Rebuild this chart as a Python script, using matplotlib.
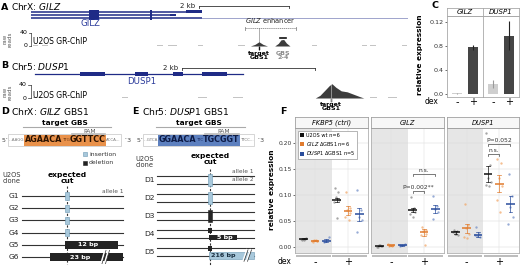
import numpy as np
import matplotlib
matplotlib.use("Agg")
import matplotlib.pyplot as plt
from matplotlib.patches import Rectangle, Patch
import matplotlib.transforms as mtransforms

plt.rcParams['font.family'] = ['DejaVu Sans']
plt.rcParams['mathtext.fontset'] = 'dejavusans'

# ---------------- data ----------------
# Panel A: GILZ locus (kb)
gilz_tx_start = [0.24, 0.24, 0.24]
gilz_tx_end = [4.04, 3.44, 8.60]
gilz_exon_start = [1.53, 2.89, 3.33, 3.69]
gilz_exon_end = [1.76, 2.93, 3.47, 4.04]
gilz_exon_lane = [-1, -1, 1, 0]
gilz_chip_kb = [5.12, 5.22, 5.31, 5.40, 5.50, 5.66, 5.74, 5.80, 5.86, 5.92, 6.00]
gilz_chip_reads = [0, 5, 13, 5, 0, 0, 8, 19, 20, 9, 0]
gilz_bg_start = [0.29, 0.49, 3.04, 3.29, 3.96, 4.84, 6.49, 7.60, 7.78, 8.49]
gilz_bg_end = [0.40, 0.62, 3.18, 3.49, 4.07, 5.00, 6.60, 7.71, 7.91, 8.60]
gilz_target_kb = 5.31
gilz_gbs24_kb = 5.84
gilz_enh = [5.00, 6.13]
gilz_scale_kb = [3.98, 5.98]

# Panel B: DUSP1 locus (kb)
dusp1_tx = [0.23, 3.35]
dusp1_exon_start = [0.90, 1.73, 2.30, 2.74]
dusp1_exon_end = [1.28, 1.92, 2.45, 3.11]
dusp1_chip_kb = [4.44, 4.51, 4.59, 4.65, 4.69, 4.75, 4.83, 4.92, 5.01, 5.10, 5.17]
dusp1_chip_reads = [0, 8, 25, 38, 44, 33, 22, 19, 12, 5, 0]
dusp1_bg_start = [0.20, 0.75, 1.53, 2.68, 3.20, 5.26, 5.53]
dusp1_bg_end = [0.38, 0.93, 1.62, 2.81, 3.35, 5.37, 5.67]
dusp1_target_kb = 4.68
dusp1_scale_kb = [2.44, 4.44]

# Panel C
c_genes = ['GILZ', 'DUSP1']
c_minus = [0.012, 0.17]
c_minus_err = [0.004, 0.065]
c_plus = [0.78, 0.97]
c_plus_err = [0.04, 0.24]
c_ticks = [0.0, 0.4, 0.8, 1.2]
c_ticklabels = ['0.0', '0.4', '0.8', '0.12']

# Panel D
d_clones = ['G1', 'G2', 'G3', 'G4', 'G5', 'G6']
d_edit = ['ins', 'ins', 'ins', 'ins', 'del', 'del']
d_label = ['', '', '', '', '12 bp', '23 bp']
d_del_left = [0, 0, 0, 0, -2, -17]
d_del_right = [0, 0, 0, 0, 51, 56]
d_break = [False, False, False, False, False, True]

# Panel E
e_clones = ['D1', 'D2', 'D3', 'D4', 'D5']
e_allele1 = ['ins', 'ins', 'del', 'del', 'del']
e_allele2 = ['ins', 'ins', 'del', 'del', 'ins']
e_allele2_label = ['', '', '', '5 bp', '216 bp']
e_allele2_right = [0, 0, 0, 27, 44]

# Panel F
f_genes = ['FKBP5 (ctrl)', 'GILZ', 'DUSP1']
f_groups = ['U2OS wt n=6', '$\\mathit{GILZ}$ ΔGBS1 n=6', '$\\mathit{DUSP1}$ ΔGBS1 n=5']
f_points = {
    ('FKBP5 (ctrl)', '-'): [[0.014, 0.015, 0.016, 0.017, 0.015, 0.013],
                            [0.010, 0.012, 0.013, 0.011, 0.012, 0.014],
                            [0.011, 0.013, 0.012, 0.020, 0.010]],
    ('FKBP5 (ctrl)', '+'): [[0.113, 0.106, 0.097, 0.090, 0.087, 0.055],
                            [0.106, 0.076, 0.071, 0.065, 0.058, 0.052],
                            [0.109, 0.071, 0.058, 0.052, 0.028]],
    ('GILZ', '-'): [[0.001, 0.002, 0.003, 0.002, 0.001, 0.003],
                    [0.002, 0.003, 0.004, 0.003, 0.005, 0.002],
                    [0.002, 0.003, 0.004, 0.005, 0.003]],
    ('GILZ', '+'): [[0.097, 0.076, 0.072, 0.068, 0.063, 0.058],
                    [0.039, 0.033, 0.030, 0.026, 0.023, 0.004],
                    [0.098, 0.079, 0.074, 0.068, 0.053]],
    ('DUSP1', '-'): [[0.033, 0.030, 0.026, 0.023, 0.028, 0.025],
                     [0.083, 0.043, 0.036, 0.026, 0.019, 0.017],
                     [0.038, 0.026, 0.021, 0.020, 0.023]],
    ('DUSP1', '+'): [[0.219, 0.158, 0.133, 0.126, 0.120, 0.117],
                     [0.169, 0.162, 0.133, 0.117, 0.091, 0.068],
                     [0.140, 0.099, 0.077, 0.058, 0.045]],
}
f_means = {
    ('FKBP5 (ctrl)', '-'): [0.0155, 0.012, 0.0125], ('FKBP5 (ctrl)', '+'): [0.090, 0.070, 0.063],
    ('GILZ', '-'): [0.002, 0.003, 0.003], ('GILZ', '+'): [0.072, 0.028, 0.073],
    ('DUSP1', '-'): [0.028, 0.036, 0.024], ('DUSP1', '+'): [0.140, 0.122, 0.083],
}
f_errs = {
    ('FKBP5 (ctrl)', '-'): [0.001, 0.001, 0.002], ('FKBP5 (ctrl)', '+'): [0.004, 0.008, 0.013],
    ('GILZ', '-'): [0.0008, 0.001, 0.001], ('GILZ', '+'): [0.004, 0.006, 0.008],
    ('DUSP1', '-'): [0.002, 0.009, 0.004], ('DUSP1', '+'): [0.015, 0.017, 0.016],
}
f_yticks = [0.00, 0.05, 0.10, 0.15, 0.20]
# significance: gene, group a, group b, height, label
f_sig = [('GILZ', 0, 2, 0.140, 'n.s.'), ('GILZ', 0, 1, 0.108, 'P=0.002**'),
         ('DUSP1', 0, 2, 0.198, 'P=0.052'), ('DUSP1', 0, 1, 0.179, 'n.s.')]

# ---------------- style ----------------
NAVY = '#1f2b86'
LIGHTLINE = '#9ea4cc'
GRP_COL = ['#111111', '#e07b2e', '#2a4d9c']
GRP_PT = ['#888888', '#f2a96c', '#7590c9']
INS_C = '#a8c8db'
INS_E = '#6b98b3'

W, H = 520, 266
fig = plt.figure(figsize=(5.2, 2.66), dpi=100)


def add_ax(x0, y0, x1, y1, zorder=1):
    return fig.add_axes([x0 / W, 1 - y1 / H, (x1 - x0) / W, (y1 - y0) / H], zorder=zorder)


ov = add_ax(0, 0, W, H, zorder=10)
ov.set_xlim(0, W); ov.set_ylim(H, 0); ov.axis('off')


def T(x, y, s, size=5, **kw):
    kw.setdefault('va', 'center')
    return ov.text(x, y, s, fontsize=size, **kw)


# ================= Panel A =================
T(1, 7, 'A', 6.8, weight='bold')
T(11, 7, 'ChrX: $\\mathit{GILZ}$', 6.5)
gA = add_ax(20, 9, 410, 21)
gA.set_xlim(0, 390 / 45); gA.set_ylim(2.9, -0.9); gA.axis('off')
for lane, (s, e) in enumerate(zip(gilz_tx_start, gilz_tx_end)):
    e1 = min(e, gilz_exon_end[-1])
    gA.plot([s, e1], [lane, lane], color=NAVY, lw=1.1, solid_capstyle='butt')
    if e > e1:
        gA.plot([e1, e], [lane, lane], color=LIGHTLINE, lw=0.7)
for s, e, ln in zip(gilz_exon_start, gilz_exon_end, gilz_exon_lane):
    if ln < 0:
        gA.add_patch(Rectangle((s, -0.55), e - s, 3.1, color=NAVY, lw=0))
    else:
        gA.add_patch(Rectangle((s, ln - 0.45), e - s, 0.9, color=NAVY, lw=0))
gA.plot(gilz_scale_kb, [-2.0, -2.0], color='#333333', lw=0.6, clip_on=False)
gA.plot([gilz_scale_kb[1]] * 2, [-2.0, -1.3], color='#333333', lw=0.6, clip_on=False)
gA.plot([gilz_scale_kb[0]] * 2, [-2.0, -1.3], color='#333333', lw=0.6, clip_on=False)
gA.text(gilz_scale_kb[0] - 0.08, -2.0, '2 kb', fontsize=5, ha='right', va='center', color='#222222')
T(90, 24, 'GILZ', 6.2, ha='center', color='#2a3a9a')

cA = add_ax(20, 33, 410, 46)
cA.set_xlim(0, 390 / 45); cA.set_ylim(0, 40); cA.axis('off')
for s, e in zip(gilz_bg_start, gilz_bg_end):
    cA.fill_between([s, e], [0, 0], [2, 2], color='#c4c4c4', lw=0)
cA.fill_between(gilz_chip_kb, 0, gilz_chip_reads, color='#3c3c3c', lw=0)
cA.plot([gilz_target_kb] * 2, [-12, 56], color='#a0a0a0', lw=0.6, clip_on=False, zorder=0)
cA.plot([gilz_target_kb] * 2, [-3, -8], color='#111111', lw=1.0, clip_on=False)
cA.plot([gilz_gbs24_kb - 0.06, gilz_gbs24_kb + 0.06], [25, 25], color='#111111', lw=1.2, clip_on=False)
cA.plot(gilz_enh, [54, 54], color='#888888', lw=0.6, ls=(0, (1.5, 0.8)), clip_on=False)
for xe in gilz_enh:
    cA.plot([xe, xe], [50, 58], color='#888888', lw=0.6, clip_on=False)
cA.text(np.mean(gilz_enh), 64, '$\\mathit{GILZ}$ enhancer', fontsize=4.8, ha='center', va='bottom', color='#222222')
cA.text(gilz_target_kb, -14, 'target\nGBS1', fontsize=4.5, weight='bold', ha='center', va='top', linespacing=0.9)
cA.text(gilz_gbs24_kb, -14, 'GBS\n2-4', fontsize=4.5, weight='bold', ha='center', va='top', color='#8a8a8a', linespacing=0.9)
cA.plot([0.244, 0.244], [0, 40], color='#333333', lw=0.5, clip_on=False)
for v in (0, 40):
    cA.plot([0.19, 0.244], [v, v], color='#333333', lw=0.5, clip_on=False)
    cA.text(0.17, v, str(v), fontsize=4.5, ha='right', va='center')
T(7.5, 39, 'raw\nreads', 4, rotation=90, ha='center', color='#555555', linespacing=0.9)
T(33, 42, 'U2OS GR-ChIP', 5.5)

# ================= Panel B =================
T(1, 66, 'B', 6.8, weight='bold')
T(11, 66, 'Chr5: $\\mathit{DUSP1}$', 6.5)
gB = add_ax(20, 70, 410, 78)
gB.set_xlim(0, 390 / 66.5); gB.set_ylim(1, -1); gB.axis('off')
gB.plot(dusp1_tx, [0, 0], color=NAVY, lw=0.9)
for s, e in zip(dusp1_exon_start, dusp1_exon_end):
    gB.add_patch(Rectangle((s, -0.45), e - s, 0.9, color=NAVY, lw=0))
gB.plot(dusp1_scale_kb, [-1.5, -1.5], color='#333333', lw=0.6, clip_on=False)
gB.plot([dusp1_scale_kb[1]] * 2, [-1.5, -0.9], color='#333333', lw=0.6, clip_on=False)
gB.plot([dusp1_scale_kb[0]] * 2, [-1.5, -0.9], color='#333333', lw=0.6, clip_on=False)
gB.text(dusp1_scale_kb[0] - 0.06, -1.5, '2 kb', fontsize=5, ha='right', va='center', color='#222222')
T(142, 82, 'DUSP1', 6.2, ha='center', color='#2a3a9a')

cB = add_ax(20, 85, 410, 98)
cB.set_xlim(0, 390 / 66.5); cB.set_ylim(0, 40); cB.axis('off')
for s, e in zip(dusp1_bg_start, dusp1_bg_end):
    cB.fill_between([s, e], [0, 0], [2, 2], color='#c4c4c4', lw=0)
cB.fill_between(dusp1_chip_kb, 0, dusp1_chip_reads, color='#3c3c3c', lw=0, clip_on=False)
cB.plot([dusp1_target_kb] * 2, [-10, 41], color='#a0a0a0', lw=0.6, clip_on=False, zorder=3)
cB.plot([dusp1_target_kb] * 2, [-3, -8], color='#111111', lw=1.0, clip_on=False)
cB.text(dusp1_target_kb, -12, 'target\nGBS1', fontsize=4.5, weight='bold', ha='center', va='top', linespacing=0.9)
cB.plot([0.17, 0.17], [0, 40], color='#333333', lw=0.5, clip_on=False)
for v in (0, 40):
    cB.plot([0.12, 0.17], [v, v], color='#333333', lw=0.5, clip_on=False)
    cB.text(0.10, v, str(v), fontsize=4.5, ha='right', va='center')
T(7.5, 92, 'raw\nreads', 4, rotation=90, ha='center', color='#555555', linespacing=0.9)
T(33, 95, 'U2OS GR-ChIP', 5.5)

# ================= Panel C =================
T(432, 5, 'C', 6.8, weight='bold')
cax = [add_ax(447, 16, 483, 97), add_ax(483, 16, 519, 97)]
for i, ax in enumerate(cax):
    ax.set_xlim(0.4, 2.6); ax.set_ylim(-0.05, 1.3)
    ax.bar([1, 2], [c_minus[i], c_plus[i]], width=0.62, color=['#cfcfcf', '#454545'], zorder=2)
    ax.errorbar([1], [c_minus[i]], yerr=[c_minus_err[i]], fmt='none', ecolor='#9a9a9a', elinewidth=0.8, capsize=0, zorder=3)
    ax.errorbar([2], [c_plus[i]], yerr=[c_plus_err[i]], fmt='none', ecolor='#222222', elinewidth=0.8, capsize=0, zorder=3)
    ax.set_xticks([])
    for sp in ax.spines.values():
        sp.set_color('#a8a8a8'); sp.set_linewidth(0.6)
    if i == 0:
        ax.set_yticks(c_ticks)
        ax.set_yticklabels(c_ticklabels, fontsize=4.6)
        ax.tick_params(axis='y', length=1.5, width=0.5, pad=1, colors='#333333')
    else:
        ax.set_yticks([])
    tr = mtransforms.blended_transform_factory(ax.transData, ax.transAxes)
    ax.text(1, -0.06, '-', transform=tr, fontsize=7, ha='center', va='center')
    ax.text(2, -0.06, '+', transform=tr, fontsize=7, ha='center', va='center')
    st = add_ax(447 + 36 * i, 8, 483 + 36 * i, 16)
    st.set_xticks([]); st.set_yticks([])
    for sp in st.spines.values():
        sp.set_color('#a8a8a8'); sp.set_linewidth(0.6)
    st.text(0.5, 0.45, c_genes[i], fontsize=5, style='italic', ha='center', va='center', transform=st.transAxes)
T(432, 102, 'dex', 5.5, ha='center')
T(420, 55, 'relative expression', 5.3, weight='bold', rotation=90, ha='center')

# ================= Panel F =================
T(280, 112, 'F', 6.8, weight='bold')
fx = [(295, 368), (371, 444), (447, 519)]
offs = [-0.34, 0.0, 0.34]
jit = [-0.06, 0.05, -0.02, 0.07, -0.08, 0.02]
fax = []
for gi, gene in enumerate(f_genes):
    x0, x1 = fx[gi]
    ax = add_ax(x0, 128, x1, 253)
    fax.append(ax)
    ax.set_xlim(0.4, 2.6); ax.set_ylim(-0.0115, 0.229)
    ax.axvspan(0.4, 1.5, color='#e6e6e6', lw=0, zorder=0)
    for v in f_yticks:
        ax.axhline(v, color='#d6d6d6', lw=0.35, zorder=0.5)
    for v in [1, 2]:
        ax.axvline(v, color='#dedede', lw=0.35, zorder=0.5)
    for di, dex in enumerate(['-', '+']):
        xc = di + 1
        for k in range(3):
            pts = f_points[(gene, dex)][k]
            xs = [xc + offs[k] + jit[j % len(jit)] for j in range(len(pts))]
            ax.plot(xs, pts, 'o', ms=1.7, color=GRP_PT[k], alpha=0.75, mew=0, zorder=2)
            m = f_means[(gene, dex)][k]
            e = f_errs[(gene, dex)][k]
            xg = xc + offs[k]
            ax.plot([xg - 0.13, xg + 0.13], [m, m], color=GRP_COL[k], lw=1.1, zorder=3, solid_capstyle='butt')
            ax.plot([xg, xg], [m - e, m + e], color=GRP_COL[k], lw=0.5, zorder=3)
            for yy in (m - e, m + e):
                ax.plot([xg - 0.06, xg + 0.06], [yy, yy], color=GRP_COL[k], lw=0.5, zorder=3)
    ax.set_xticks([])
    for sp in ax.spines.values():
        sp.set_color('#b0b0b0'); sp.set_linewidth(0.6)
    if gi == 0:
        ax.set_yticks(f_yticks)
        ax.set_yticklabels(['%.2f' % v for v in f_yticks], fontsize=4.3)
        ax.tick_params(axis='y', length=1.5, width=0.5, pad=1, colors='#333333')
    else:
        ax.set_yticks([])
    tr = mtransforms.blended_transform_factory(ax.transData, ax.transAxes)
    for a, b in [(0.43, 1.47), (1.53, 2.57)]:
        ax.add_patch(Rectangle((a, -0.034), b - a, 0.022, transform=tr, color='#bdbdbd', lw=0, clip_on=False))
    ax.text(1, -0.07, '-', transform=tr, fontsize=7, ha='center', va='center')
    ax.text(2, -0.07, '+', transform=tr, fontsize=7, ha='center', va='center')
    st = add_ax(x0, 117, x1, 128)
    st.set_xticks([]); st.set_yticks([])
    st.set_facecolor('#f7f7f7')
    for sp in st.spines.values():
        sp.set_color('#a0a0a0'); sp.set_linewidth(0.6)
    st.text(0.5, 0.45, gene, fontsize=4.8, style='italic', ha='center', va='center', transform=st.transAxes)

for gene, a, b, h, lab in f_sig:
    ax = fax[f_genes.index(gene)]
    xa, xb = 2 + offs[a], 2 + offs[b]
    ax.plot([xa, xa, xb, xb], [h - 0.004, h, h, h - 0.004], color='#444444', lw=0.5, zorder=4)
    ax.text((xa + xb) / 2, h + 0.002, lab, fontsize=4.3, ha='center', va='bottom', color='#333333')

handles = [Patch(facecolor=c, edgecolor='none') for c in GRP_COL]
leg = fax[0].legend(handles, f_groups, loc='upper left', bbox_to_anchor=(0.01, 0.995), fontsize=3.6,
                    handlelength=0.8, handleheight=0.8, handletextpad=0.4, labelspacing=0.35,
                    borderpad=0.35, fancybox=False, framealpha=1, edgecolor='#999999')
leg.get_frame().set_linewidth(0.5)
T(285, 261, 'dex', 5.5, ha='center')
T(272, 190, 'relative expression', 5.3, weight='bold', rotation=90, ha='center')

# ================= Panels D & E (text) =================
T(1, 111.5, 'D', 6.8, weight='bold')
T(11, 111.5, 'ChrX: $\\mathit{GILZ}$ GBS1', 6.6)
T(132, 111.5, 'E', 6.8, weight='bold')
T(142, 111.5, 'Chr5: $\\mathit{DUSP1}$ GBS1', 6.6)

renderer = fig.canvas.get_renderer()


def seq_line(x, y, pieces, box_from, box_to, box_color):
    starts, ends = [], []
    for s, size, weight, color in pieces:
        t = T(x, y, s, size, weight=weight, color=color, zorder=5)
        bb = t.get_window_extent(renderer=renderer)
        starts.append(x); ends.append(x + bb.width)
        x += bb.width
    ov.add_patch(Rectangle((starts[box_from] - 0.5, y - 5.5), ends[box_to] - starts[box_from] + 1, 11,
                           color=box_color, lw=0, zorder=2))
    ov.add_patch(Rectangle((starts[1] - 1, y - 6), ends[-2] - starts[1] + 2, 12, fill=False,
                           edgecolor='#cfcfcf', lw=0.6, zorder=1))
    return starts, ends


sD, eD = seq_line(2, 140, [('5´', 4.5, 'normal', '#444444'), ('...AAGG', 2.9, 'normal', '#777777'),
                          ('AGAACA', 5.8, 'bold', '#2a1200'), ('TTG', 2.9, 'normal', '#6b3510'),
                          ('GGTTCC', 5.8, 'bold', '#2a1200'), ('ACCA...', 2.9, 'normal', '#777777'),
                          ('  ´3', 4.5, 'normal', '#444444')], 2, 4, '#e9914a')
sE, eE = seq_line(137, 140, [('5´', 4.5, 'normal', '#444444'), ('...GTCA', 2.9, 'normal', '#777777'),
                            ('GGAACA', 5.8, 'bold', '#0d1b46'), ('TTC', 2.9, 'normal', '#1d2f66'),
                            ('TGCGGT', 5.8, 'bold', '#0d1b46'), ('TTCC...', 2.9, 'normal', '#777777'),
                            ('  ´3', 4.5, 'normal', '#444444')], 2, 4, '#5d80bf')
for (ss, ee) in [(sD, eD), (sE, eE)]:
    cx = (ss[2] + ee[4]) / 2
    T(cx, 122.5, 'target GBS', 5.3, weight='bold', ha='center')
    ov.plot([ss[2] - 2, ee[4] + 5], [127, 127], color='#aaaaaa', lw=0.8)
    px = (ss[4] + ee[4]) / 2 + 2
    T(px, 131.3, 'PAM', 4.3, ha='center', color='#555555')
    ov.plot([ss[4] + 2, ee[4] - 1], [134.3, 134.3], color='#bbbbbb', lw=1.2)

ov.add_patch(Rectangle((83, 152), 4, 4, facecolor=INS_C, edgecolor=INS_E, lw=0.4))
ov.add_patch(Rectangle((83, 161), 4, 4, facecolor='#222222', edgecolor='#222222', lw=0.4))
T(89, 154, 'insertion', 4.4, color='#333333')
T(89, 163, 'deletion', 4.4, color='#333333')

# ================= Panel D rows =================
dD = add_ax(0, 186, 135, 264)
dD.set_xlim(-67, 68); dD.set_ylim(5.57, -0.82); dD.axis('off')
T(12, 178, 'U2OS\nclone', 4.8, ha='center', color='#333333', linespacing=0.95)
T(67, 178, 'expected\ncut', 5.4, ha='center', weight='bold', linespacing=0.85)
dD.plot([0, 0], [-0.82, 5.6], color='#333333', lw=0.8, ls=(0, (2, 1.5)), clip_on=False, zorder=1)
for i, cl in enumerate(d_clones):
    dD.plot([-45, 56], [i, i], color='#333333', lw=0.8, zorder=2)
    dD.text(-48, i, cl, fontsize=5.4, ha='right', va='center', color='#222222')
    if d_edit[i] == 'ins':
        dD.add_patch(Rectangle((-1.6, i - 0.3), 3.2, 0.6, facecolor=INS_C, edgecolor=INS_E, lw=0.4, zorder=3))
    else:
        l, r = d_del_left[i], d_del_right[i]
        dD.add_patch(Rectangle((l, i - 0.33), r - l, 0.66, facecolor='#232323', lw=0, zorder=3))
        dD.text((l + r) / 2 - 3 if not d_break[i] else l + 30, i, d_label[i], fontsize=4.6, weight='bold',
                color='white', ha='center', va='center', zorder=4)
        if d_break[i]:
            for dx in (0, 3.5):
                dD.plot([34 + dx, 38 + dx], [i + 0.55, i - 0.55], color='white', lw=1.3, zorder=5)
                dD.plot([35 + dx, 39 + dx], [i + 0.55, i - 0.55], color='#333333', lw=0.5, zorder=6)
dD.text(56, -0.35, 'allele 1', fontsize=4.2, ha='right', va='center', color='#555555')

# ================= Panel E rows =================
dE = add_ax(130, 165, 275, 264)
dE.set_xlim(-80, 65); dE.set_ylim(4.667, -0.833); dE.axis('off')
T(145, 162, 'U2OS\nclone', 4.8, ha='center', color='#333333', linespacing=0.95)
T(210, 159, 'expected\ncut', 5.4, ha='center', weight='bold', linespacing=0.85)
dE.plot([0, 0], [-0.6, 4.7], color='#333333', lw=0.8, ls=(0, (2, 1.5)), clip_on=False, zorder=1)
ao = 0.2
for i, cl in enumerate(e_clones):
    for a in (-ao, ao):
        dE.plot([-53, 44], [i + a, i + a], color='#333333', lw=0.8, zorder=2)
    dE.text(-55, i, cl, fontsize=5.4, ha='right', va='center', color='#222222')
    if e_allele1[i] == e_allele2[i] and e_allele2_label[i] == '':
        fc = INS_C if e_allele1[i] == 'ins' else '#232323'
        dE.add_patch(Rectangle((-1.6, i - 0.36), 3.2, 0.72, facecolor=fc,
                               edgecolor=INS_E if e_allele1[i] == 'ins' else fc, lw=0.4, zorder=3))
    else:
        dE.add_patch(Rectangle((-1.6, i - ao - 0.15), 3.2, 0.3, facecolor='#232323', lw=0, zorder=3))
        r = e_allele2_right[i]
        if e_allele2[i] == 'ins':
            dE.add_patch(Rectangle((-1, i + ao - 0.19), r + 1, 0.38, facecolor=INS_C, edgecolor=INS_E,
                                   lw=0.4, zorder=3))
            dE.text(13, i + ao, e_allele2_label[i], fontsize=4.6, weight='bold', color='#1a2f40',
                    ha='center', va='center', zorder=4)
            for dx in (0, 3.5):
                dE.plot([33 + dx, 37 + dx], [i + ao + 0.32, i + ao - 0.32], color='white', lw=1.3, zorder=5)
                dE.plot([34 + dx, 38 + dx], [i + ao + 0.32, i + ao - 0.32], color='#333333', lw=0.5, zorder=6)
        else:
            dE.add_patch(Rectangle((-1, i + ao - 0.16), r + 1, 0.32, facecolor='#232323', lw=0, zorder=3))
            dE.text(r / 2 + 1, i + ao, e_allele2_label[i], fontsize=4.6, weight='bold', color='white',
                    ha='center', va='center', zorder=4)
dE.text(44, -0.45, 'allele 1', fontsize=4.2, ha='right', va='center', color='#555555')
dE.text(44, 0.0, 'allele 2', fontsize=4.2, ha='right', va='center', color='#555555')

fig.savefig('out.png', dpi=100)
